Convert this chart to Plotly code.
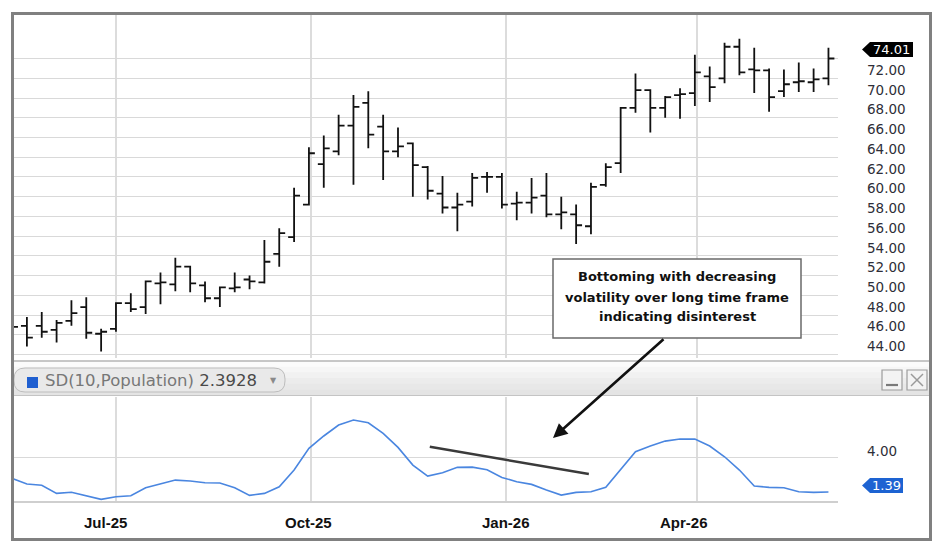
import plotly.graph_objects as go
import pandas as pd

W, H = 944, 554

# weekly bars, one every 7 days
dates = pd.date_range("2025-05-13", periods=56, freq="7D")

opens = [47.1, 46.9, 46.9, 46.5, 47.4, 48.8, 46.1, 46.6, 49.2, 48.8,
         51.2, 51.1, 52.9, 51.0, 49.7, 50.7, 51.6, 51.3, 54.2, 55.9,
         59.2, 63.3, 64.6, 67.2, 69.5, 67.1, 64.6, 65.4, 63.0, 60.3,
         58.9, 59.5, 62.0, 62.0, 59.3, 59.4, 60.1, 58.2, 58.2, 57.0,
         61.2, 63.4, 69.0, 70.8, 69.0, 70.3, 70.5, 72.2, 72.0, 75.2,
         72.9, 72.8, 70.7, 71.6, 71.6, 72.0]
highs = [47.6, 47.8, 48.3, 47.5, 49.5, 49.8, 46.6, 49.3, 50.2, 51.5,
         52.3, 53.8, 53.0, 51.4, 50.9, 52.3, 52.0, 55.6, 56.8, 60.9,
         65.0, 66.2, 68.3, 70.3, 70.7, 68.3, 67.0, 65.5, 63.1, 62.1,
         60.4, 62.4, 62.5, 62.4, 60.5, 61.9, 62.4, 60.0, 59.2, 61.4,
         63.4, 69.1, 72.5, 70.9, 70.2, 71.0, 74.4, 73.2, 75.6, 76.0,
         75.1, 73.0, 72.9, 73.6, 73.0, 75.1]
lows = [46.3, 44.8, 45.7, 45.2, 46.9, 45.6, 44.3, 46.3, 48.3, 48.1,
        49.1, 50.4, 50.3, 49.3, 48.8, 50.3, 50.6, 51.2, 52.9, 55.4,
        59.1, 60.9, 64.2, 61.2, 64.9, 61.7, 64.0, 60.0, 59.7, 58.3,
        56.5, 59.0, 60.4, 58.8, 57.6, 58.3, 57.9, 56.7, 55.2, 56.2,
        61.0, 62.4, 68.5, 66.5, 68.0, 67.9, 69.2, 69.6, 71.5, 72.3,
        70.5, 68.6, 70.1, 70.6, 70.6, 71.3]
closes = [46.8, 45.7, 46.3, 47.2, 48.2, 46.2, 46.3, 49.2, 48.6, 51.4,
          51.3, 52.9, 51.2, 49.7, 50.8, 50.8, 51.4, 53.4, 56.3, 60.1,
          64.4, 64.9, 67.2, 69.1, 66.3, 64.6, 65.1, 63.2, 60.6, 58.9,
          59.2, 61.9, 62.0, 59.2, 59.4, 59.9, 58.2, 58.4, 57.1, 61.0,
          63.0, 69.0, 70.8, 69.0, 70.1, 70.4, 72.6, 71.1, 75.2, 72.6,
          72.8, 70.1, 71.4, 71.7, 71.9, 74.01]

sd_values = [2.41, 1.99, 1.89, 1.29, 1.37, 1.09, 0.84, 1.04, 1.11, 1.71,
             1.99, 2.28, 2.21, 2.08, 2.06, 1.71, 1.14, 1.29, 1.78, 3.03,
             4.65, 5.57, 6.39, 6.76, 6.56, 5.77, 4.72, 3.40, 2.58, 2.83,
             3.23, 3.25, 3.05, 2.48, 2.16, 1.96, 1.54, 1.16, 1.36, 1.41,
             1.74, 3.03, 4.40, 4.82, 5.19, 5.34, 5.34, 4.82, 4.02, 3.03,
             1.84, 1.74, 1.71, 1.41, 1.36, 1.39]

price_ticks = [44, 46, 48, 50, 52, 54, 56, 58, 60, 62, 64, 66, 68, 70, 72, 74]
sd_ticks = [4]
month_ticks = ["2025-07-01", "2025-10-01", "2026-01-01", "2026-04-01"]
month_labels = ["Jul-25", "Oct-25", "Jan-26", "Apr-26"]
month_label_pos = ["2025-06-26", "2025-09-30", "2026-01-01", "2026-03-26"]

last_price = 74.01
last_sd = 1.39
sd_header = "2.3928"

# hand-drawn trend line on the SD pane
trend_x = ["2025-11-26", "2026-02-09"]
trend_y = [4.77, 2.73]

note_lines = ["Bottoming with decreasing",
              "volatility over long time frame",
              "indicating disinterest"]


def px(x):
    return x / W


def py(y):
    return 1 - y / H


fig = go.Figure()

fig.add_trace(go.Ohlc(
    x=dates, open=opens, high=highs, low=lows, close=closes,
    xaxis="x", yaxis="y",
    increasing=dict(line=dict(color="#111111", width=1.8)),
    decreasing=dict(line=dict(color="#111111", width=1.8)),
    tickwidth=0.4, showlegend=False, hoverinfo="skip",
))

fig.add_trace(go.Scatter(
    x=dates, y=sd_values, xaxis="x2", yaxis="y2", mode="lines",
    line=dict(color="#4a86e0", width=1.6), showlegend=False, hoverinfo="skip",
))

tick_font = dict(family="DejaVu Sans", size=13.5, color="#2e2e38")
xrange = ["2025-05-13 22:00", "2026-06-06 12:00"]

shapes = []

# pane header with a soft vertical gradient
strips = ["#fbfbfb", "#f6f6f6", "#f1f1f1", "#ececec", "#e8e8e8", "#e4e4e4"]
top, bot = 361, 395
step = (bot - top) / len(strips)
for i, c in enumerate(strips):
    shapes.append(dict(type="rect", xref="paper", yref="paper",
                       x0=px(13), x1=px(930), y0=py(top + i * step),
                       y1=py(top + (i + 1) * step + 0.5),
                       fillcolor=c, line=dict(width=0), layer="above"))
shapes.append(dict(type="line", xref="paper", yref="paper", x0=px(13), x1=px(930),
                   y0=py(361), y1=py(361), line=dict(color="#b4b4b4", width=1.5),
                   layer="above"))
shapes.append(dict(type="line", xref="paper", yref="paper", x0=px(13), x1=px(930),
                   y0=py(395.5), y1=py(395.5), line=dict(color="#c4c4c4", width=1.2),
                   layer="above"))

# rounded pill holding the indicator name
l, r, t, b, rad = 14, 285, 368, 392, 11
pill = (f"M{px(l + rad)},{py(t)} L{px(r - rad)},{py(t)} "
        f"Q{px(r)},{py(t)} {px(r)},{py(t + rad)} L{px(r)},{py(b - rad)} "
        f"Q{px(r)},{py(b)} {px(r - rad)},{py(b)} L{px(l + rad)},{py(b)} "
        f"Q{px(l)},{py(b)} {px(l)},{py(b - rad)} L{px(l)},{py(t + rad)} "
        f"Q{px(l)},{py(t)} {px(l + rad)},{py(t)} Z")
shapes.append(dict(type="path", xref="paper", yref="paper", path=pill,
                   fillcolor="#e9e9e9", line=dict(color="#bdbdbd", width=1),
                   layer="above"))
shapes.append(dict(type="rect", xref="paper", yref="paper", x0=px(27), x1=px(38),
                   y0=py(377), y1=py(388), fillcolor="#1f5fd0",
                   line=dict(width=0), layer="above"))

# minimise / close buttons
for x0 in (882, 907):
    shapes.append(dict(type="rect", xref="paper", yref="paper", x0=px(x0),
                       x1=px(x0 + 20), y0=py(370), y1=py(390),
                       fillcolor="#f3f3f3", line=dict(color="#9c9c9c", width=1.2),
                       layer="above"))
shapes.append(dict(type="line", xref="paper", yref="paper", x0=px(886), x1=px(898),
                   y0=py(385), y1=py(385), line=dict(color="#7a7a7a", width=2.2),
                   layer="above"))
shapes.append(dict(type="line", xref="paper", yref="paper", x0=px(911), x1=px(923),
                   y0=py(374), y1=py(386), line=dict(color="#9a9a9a", width=1.5),
                   layer="above"))
shapes.append(dict(type="line", xref="paper", yref="paper", x0=px(923), x1=px(911),
                   y0=py(374), y1=py(386), line=dict(color="#9a9a9a", width=1.5),
                   layer="above"))

# callout box
shapes.append(dict(type="rect", xref="paper", yref="paper", x0=px(553), x1=px(801),
                   y0=py(338), y1=py(259), fillcolor="white",
                   line=dict(color="#6a6a6a", width=1.5), layer="above"))

# trend line drawn on the SD pane
shapes.append(dict(type="line", xref="x2", yref="y2", x0=trend_x[0], x1=trend_x[1],
                   y0=trend_y[0], y1=trend_y[1],
                   line=dict(color="#3a3a3a", width=2.5), layer="above"))

# value tags on the right axes
shapes.append(dict(type="path", xref="paper", yref="y", xsizemode="pixel",
                   ysizemode="pixel", xanchor=px(862), yanchor=last_price,
                   path="M0,9 L8,16.5 L51,16.5 L51,1.5 L8,1.5 Z",
                   fillcolor="#000000", line=dict(width=0), layer="above"))
shapes.append(dict(type="path", xref="paper", yref="y2", xsizemode="pixel",
                   ysizemode="pixel", xanchor=px(862), yanchor=last_sd,
                   path="M0,6.5 L8,14 L41,14 L41,-1 L8,-1 Z",
                   fillcolor="#1d63d2", line=dict(width=0), layer="above"))

# outer frame
shapes.append(dict(type="rect", xref="paper", yref="paper", x0=px(12.5), x1=px(930.5),
                   y0=py(539.5), y1=py(13.5), line=dict(color="#808080", width=3),
                   layer="above"))

annotations = []
annotations.append(dict(
    xref="paper", yref="paper", x=px(43), y=py(380.5), xanchor="left",
    yanchor="middle", showarrow=False,
    text=f"SD(10,Population) <span style='color:#4a4a4a'>{sd_header}</span>",
    font=dict(family="DejaVu Sans", size=16.5, color="#777777")))
annotations.append(dict(
    xref="paper", yref="paper", x=px(273), y=py(380), xanchor="center",
    yanchor="middle", showarrow=False,
    text="▼", font=dict(family="DejaVu Sans", size=8, color="#8a8a8a")))

for line, yy in zip(note_lines, (276, 297, 316)):
    annotations.append(dict(
        xref="paper", yref="paper", x=px(677), y=py(yy), xanchor="center",
        yanchor="middle", showarrow=False, text=f"<b>{line}</b>",
        font=dict(family="DejaVu Sans", size=13, color="#111111")))

annotations.append(dict(
    xref="paper", yref="paper", x=px(553), y=py(438), text="", showarrow=True,
    ax=112, ay=-100, arrowhead=2, arrowsize=1.1, arrowwidth=2.6,
    arrowcolor="#111111", standoff=0))

for lab, pos in zip(month_labels, month_label_pos):
    annotations.append(dict(
        xref="x2", yref="paper", x=pos, y=py(522), xanchor="center",
        yanchor="middle", showarrow=False, text=f"<b>{lab}</b>",
        font=dict(family="Liberation Sans", size=15, color="#111111")))

annotations.append(dict(
    xref="paper", yref="y", x=px(891.5), y=last_price, yshift=9,
    xanchor="center", yanchor="middle", showarrow=False,
    text=f"{last_price:.2f}", font=dict(family="DejaVu Sans", size=13, color="white")))
annotations.append(dict(
    xref="paper", yref="y2", x=px(886.5), y=last_sd, yshift=6.5,
    xanchor="center", yanchor="middle", showarrow=False,
    text=f"{last_sd:.2f}", font=dict(family="DejaVu Sans", size=13, color="white")))

fig.update_layout(
    width=W, height=H, autosize=False,
    margin=dict(l=0, r=0, t=0, b=0),
    paper_bgcolor="white", plot_bgcolor="white",
    showlegend=False,
    xaxis=dict(domain=[px(14), px(838)], range=xrange, anchor="y",
               tickvals=month_ticks, showticklabels=False, ticks="",
               showgrid=True, gridcolor="#dcdcdc", gridwidth=1.5,
               zeroline=False, rangeslider=dict(visible=False), fixedrange=True),
    yaxis=dict(domain=[py(358), py(15)], range=[43.64, 78.42], anchor="x",
               side="right", tickvals=price_ticks,
               ticktext=[f"{v:.2f}" if v != 74 else "" for v in price_ticks],
               ticks="", ticklabelstandoff=28, ticklabelshift=-8,
               tickfont=tick_font, showgrid=True, gridcolor="#d9d9d9",
               gridwidth=1, zeroline=False, fixedrange=True),
    xaxis2=dict(domain=[px(14), px(838)], range=xrange, anchor="y2",
                tickvals=month_ticks, showticklabels=False, ticks="",
                showgrid=True, gridcolor="#dcdcdc", gridwidth=1.5,
                showline=True, linecolor="#cfcfcf", linewidth=1.5,
                zeroline=False, fixedrange=True),
    yaxis2=dict(domain=[py(501), py(397)], range=[0.72, 8.48], anchor="x2",
                side="right", tickvals=sd_ticks,
                ticktext=[f"{v:.2f}" for v in sd_ticks],
                ticks="", ticklabelstandoff=28, ticklabelshift=-6,
                tickfont=tick_font, showgrid=True, gridcolor="#d9d9d9",
                gridwidth=1, zeroline=False, fixedrange=True),
    shapes=shapes,
    annotations=annotations,
)

fig.write_html(
    "out.html",
    config={"displayModeBar": False},
    post_script="document.body.style.margin='0';document.body.style.overflow='hidden';",
)
